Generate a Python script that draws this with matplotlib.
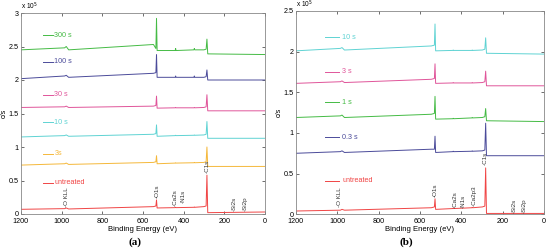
import matplotlib
matplotlib.use("Agg")
import matplotlib.pyplot as plt
from matplotlib.ticker import FuncFormatter

plt.rcParams['font.family'] = ['Liberation Sans', 'DejaVu Sans']

# ---------------- data (units of 1e5 c/s) ----------------
energy_a = [1200, 985, 977, 965, 548, 536, 533, 530, 441, 439, 437, 349, 347, 345, 300, 289, 285, 281, 0]
untreated_a = [0.07, 0.08, 0.09, 0.075, 0.11, 0.12, 0.21, 0.09, 0.095, 0.10, 0.095, 0.10, 0.105, 0.10, 0.11, 0.12, 0.58, 0.02, 0.03]
s3_a = [0.73, 0.75, 0.76, 0.74, 0.77, 0.78, 0.87, 0.75, 0.76, 0.765, 0.76, 0.765, 0.77, 0.765, 0.77, 0.78, 1.00, 0.71, 0.71]
s10_a = [1.15, 1.17, 1.18, 1.16, 1.19, 1.20, 1.33, 1.16, 1.17, 1.175, 1.17, 1.175, 1.18, 1.175, 1.18, 1.19, 1.38, 1.13, 1.13]
s30_a = [1.59, 1.60, 1.61, 1.59, 1.61, 1.62, 1.76, 1.58, 1.585, 1.59, 1.585, 1.585, 1.59, 1.585, 1.59, 1.60, 1.78, 1.54, 1.54]
s100_a = [2.02, 2.06, 2.07, 2.04, 2.10, 2.11, 2.38, 2.04, 2.04, 2.06, 2.04, 2.04, 2.06, 2.04, 2.04, 2.05, 2.15, 2.00, 2.00]
s300_a = [2.45, 2.48, 2.50, 2.45, 2.53, 2.47, 2.92, 2.44, 2.44, 2.47, 2.44, 2.45, 2.47, 2.45, 2.45, 2.46, 2.61, 2.39, 2.38]
names_a = ["untreated", "3s", "10 s", "30 s", "100 s", "300 s"]
colors_a = ["#f04545", "#f5b83a", "#5fd3d3", "#e0559a", "#4b4b9a", "#45bb45"]
label_y_a = [0.47, 0.90, 1.37, 1.78, 2.27, 2.67]

energy_b = [1200, 985, 977, 965, 545, 530, 527, 524, 441, 439, 437, 349, 347, 345, 298, 286, 282, 278, 0]
untreated_b = [0.04, 0.05, 0.06, 0.05, 0.08, 0.09, 0.19, 0.06, 0.07, 0.075, 0.07, 0.08, 0.085, 0.08, 0.09, 0.10, 0.57, 0.01, 0.01]
s03_b = [0.75, 0.77, 0.78, 0.76, 0.80, 0.80, 0.96, 0.76, 0.77, 0.775, 0.77, 0.775, 0.78, 0.775, 0.78, 0.79, 1.12, 0.72, 0.72]
s1_b = [1.19, 1.21, 1.22, 1.19, 1.23, 1.24, 1.45, 1.17, 1.175, 1.18, 1.175, 1.185, 1.19, 1.185, 1.19, 1.20, 1.30, 1.15, 1.14]
s3_b = [1.61, 1.63, 1.64, 1.62, 1.66, 1.67, 1.85, 1.61, 1.615, 1.62, 1.615, 1.615, 1.62, 1.615, 1.62, 1.63, 1.76, 1.58, 1.58]
s10_b = [2.01, 2.04, 2.05, 2.02, 2.07, 2.08, 2.34, 2.01, 2.015, 2.02, 2.015, 2.015, 2.02, 2.015, 2.02, 2.03, 2.17, 1.98, 1.97]
names_b = ["untreated", "0.3 s", "1 s", "3 s", "10 s"]
colors_b = ["#f04545", "#4b4b9a", "#45bb45", "#e0559a", "#5fd3d3"]
label_y_b = [0.41, 0.95, 1.38, 1.75, 2.18]

peaks_a = ["O KLL", "O1s", "Ca2s", "N1s", "C1s", "Si2s", "Si2p"]
peak_e_a = [975, 531, 439, 402, 284, 151, 99]
peak_y_a = [0.11, 0.24, 0.12, 0.17, 0.61, 0.04, 0.04]

peaks_b = ["O KLL", "O1s", "Ca2s", "N1s", "Ca2p3", "C1s", "Si2s", "Si2p"]
peak_e_b = [990, 527, 431, 390, 339, 282, 145, 95]
peak_y_b = [0.09, 0.21, 0.08, 0.08, 0.10, 0.60, 0.02, 0.02]

x_ticks = [1200, 1000, 800, 600, 400, 200, 0]

fig = plt.figure(figsize=(5.5, 2.5), dpi=100)
ax_a = fig.add_axes([0.038, 0.144, 0.4436, 0.804])
ax_b = fig.add_axes([0.538, 0.143, 0.451, 0.813])

fs = 5.2
frame_c = "#888888"


def style(ax, ymax, yticks):
    ax.set_xlim(1200, 0)
    ax.set_ylim(0, ymax)
    ax.set_xticks(x_ticks)
    ax.set_yticks(yticks)
    ax.yaxis.set_major_formatter(FuncFormatter(lambda v, p: "%g" % v))
    ax.tick_params(direction="in", length=2, width=0.5, labelsize=fs, pad=1.5,
                   top=True, right=True, color="#333333")
    ax.tick_params(axis="x", pad=3)
    for s in ax.spines.values():
        s.set_color(frame_c)
        s.set_linewidth(0.6)
    ax.set_xlabel("Binding Energy (eV)", fontsize=fs + 0.3, labelpad=0.5)
    ax.set_ylabel("c/s", fontsize=fs, labelpad=1)
    ax.text(0.0, 1.005, "x 10$^5$", transform=ax.transAxes, fontsize=fs - 0.5,
            ha="left", va="bottom")


series_a = [untreated_a, s3_a, s10_a, s30_a, s100_a, s300_a]
for y, n, c, ly in zip(series_a, names_a, colors_a, label_y_a):
    ax_a.plot(energy_a, y, color=c, lw=0.7)
    ax_a.plot([1090, 1043], [ly, ly], color=c, lw=0.7)
    ax_a.text(1035, ly, n, color=c, fontsize=fs, va="center", ha="left")
for n, e, y in zip(peaks_a, peak_e_a, peak_y_a):
    ax_a.text(e, y, "-" + n, rotation=90, fontsize=fs - 0.7, ha="center", va="bottom",
              color="#333333")
style(ax_a, 3, [0, 0.5, 1, 1.5, 2, 2.5, 3])

series_b = [untreated_b, s03_b, s1_b, s3_b, s10_b]
for y, n, c, ly in zip(series_b, names_b, colors_b, label_y_b):
    ax_b.plot(energy_b, y, color=c, lw=0.7)
    ax_b.plot([1060, 990], [ly, ly], color=c, lw=0.7)
    ax_b.text(975, ly, n, color=c, fontsize=fs, va="center", ha="left")
for n, e, y in zip(peaks_b, peak_e_b, peak_y_b):
    ax_b.text(e, y, "-" + n, rotation=90, fontsize=fs - 0.7, ha="center", va="bottom",
              color="#333333")
style(ax_b, 2.5, [0, 0.5, 1, 1.5, 2, 2.5])

fig.text(0.245, 0.032, "(a)", fontsize=8, fontweight="bold", family="Liberation Serif",
         ha="center", va="center")
fig.text(0.739, 0.032, "(b)", fontsize=8, fontweight="bold", family="Liberation Serif",
         ha="center", va="center")

fig.savefig("out.png", dpi=100)
